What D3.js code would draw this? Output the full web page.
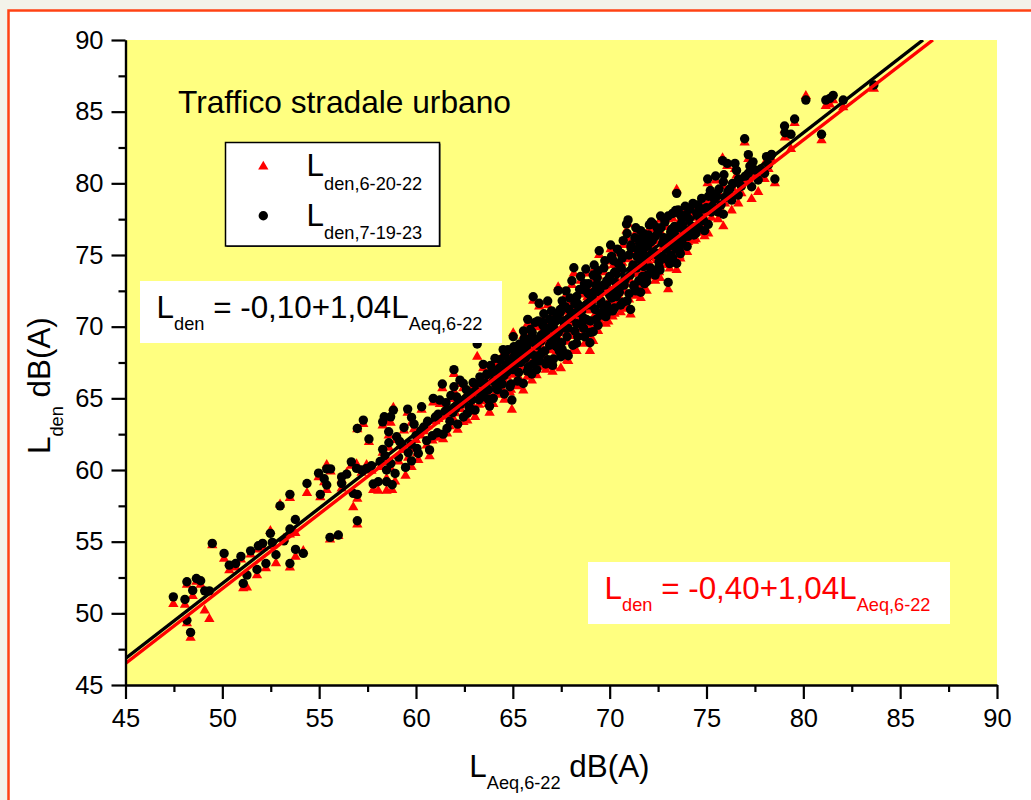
<!DOCTYPE html>
<html><head><meta charset="utf-8">
<script src="https://cdnjs.cloudflare.com/ajax/libs/d3/7.8.5/d3.min.js"></script>
<style>html,body{margin:0;padding:0;background:#f3f3ea;overflow:hidden}svg{display:block}text{font-family:"Liberation Sans",Arial,sans-serif}</style>
</head><body><svg id="c" width="1031" height="800"></svg>
<script>
const lAeq = [
47.47,48.07,48.17,48.47,48.66,48.88,49.09,49.33,48.17,48.36,
49.48,50.09,50.36,50.69,50.96,51.08,51.27,51.46,51.79,51.86,
52.08,52.25,52.48,52.58,52.77,53.18,53.49,53.49,53.78,53.77,
54.18,52.98,53.49,54.37,55.06,54.97,55.26,55.39,55.39,55.59,
55.56,55.99,56.16,56.16,56.42,56.66,56.76,56.97,56.97,56.97,
57.28,57.57,56.93,57.19,57.45,57.79,58.05,58.48,58.77,58.28,
58.36,58.83,58.69,58.59,59.00,58.28,58.48,58.92,59.46,59.77,
59.38,59.57,59.77,59.90,59.30,59.10,58.70,59.60,60.00,60.12,
60.29,60.40,60.55,60.70,60.89,61.00,61.10,61.23,61.36,61.50,
61.60,61.75,61.80,61.96,61.96,62.05,62.15,62.27,62.44,62.50,
62.65,62.80,62.95,63.05,63.16,63.30,63.40,63.47,63.60,63.72,
63.80,63.90,63.99,64.08,64.15,64.30,64.40,64.56,64.60,64.70,
64.85,64.95,65.02,65.10,65.15,65.25,65.35,65.45,65.54,65.60,
65.70,65.77,65.80,65.90,65.98,66.05,66.10,66.15,66.23,66.30,
66.36,66.45,66.50,66.60,66.70,66.80,66.85,66.90,67.00,67.05,
67.10,67.20,67.30,67.34,67.40,67.48,67.52,67.55,67.65,67.75,
67.80,67.86,67.90,68.00,68.05,68.15,68.20,68.29,68.30,68.40,
68.50,68.55,68.60,68.70,68.77,68.80,68.90,68.98,69.00,69.10,
69.15,69.20,69.25,69.35,69.40,69.46,69.50,69.60,69.70,69.75,
69.80,69.93,70.00,70.05,70.10,70.20,70.25,70.35,70.40,70.50,
70.57,70.60,70.70,70.75,70.87,70.90,71.00,71.05,71.08,70.95,
71.20,71.30,71.35,71.45,71.50,71.60,71.65,71.73,71.80,71.91,
71.95,72.05,72.10,72.20,72.25,72.35,72.40,72.50,72.60,72.63,
72.70,72.80,72.90,73.02,73.02,73.10,73.20,73.30,73.40,73.46,
73.46,73.54,73.60,73.70,73.80,73.90,74.00,74.10,74.14,74.30,
74.45,74.50,74.60,74.75,74.85,75.00,75.09,75.06,75.20,75.30,
75.47,75.50,75.60,75.83,75.87,75.87,75.95,76.07,76.20,76.30,
76.47,76.64,76.66,76.97,77.16,77.24,77.33,77.50,77.16,77.67,
78.10,78.36,78.20,78.53,78.00,79.03,79.05,79.36,79.55,80.13,
80.94,81.16,81.37,81.54,82.06,83.64,
66.20,66.55,66.75,67.15,67.45,67.70,68.10,68.35,68.65,68.85,
69.05,69.30,69.55,69.85,70.15,70.30,70.45,70.65,70.80,71.10,
71.25,71.40,71.55,71.70,71.85,72.00,72.15,72.30,72.45,72.55,
72.75,72.85,73.05,73.15,73.25,73.35,73.50,73.65,73.75,73.85,
64.25,64.50,64.80,65.05,65.30,65.65,65.85,66.00,66.40,66.65,
58.60,59.15,59.75,60.05,60.25,60.60,60.85,61.15,61.40,61.55,
61.70,61.90,62.10,62.30,62.45,62.60,62.75,62.90,63.10,63.25,
63.35,63.50,63.65,63.75,63.85,64.00,64.10,64.20,64.35,64.45,
64.55,64.65,64.75,64.90,65.00,65.05,65.20,65.30,65.40,65.50,
65.55,65.65,65.75,65.85,65.95,66.00,66.05,66.15,66.25,66.35,
66.45,66.55,66.65,66.70,66.80,66.90,67.00,67.05,67.15,67.25,
67.35,67.45,67.55,67.60,67.70,67.80,67.85,67.95,68.05,68.10,
68.20,68.30,68.35,68.45,68.55,68.65,68.70,68.80,68.90,69.00,
69.05,69.15,69.25,69.30,69.40,69.50,69.55,69.65,69.75,69.85,
69.90,70.00,70.10,70.15,70.25,70.35,70.45,70.55,70.60,70.70,
70.80,70.90,71.00,71.10,71.15,71.25,71.35,71.40,71.50,71.60,
71.70,71.75,71.85,71.95,72.00,72.10,72.15,72.25,72.35,72.45,
72.55,72.65,72.75,72.85,72.95,73.05,73.15,73.25,73.35,73.45,
73.55,73.65,73.75,73.85,73.95,74.05,74.15,74.25,74.35,74.55,
74.65,74.80,74.90,75.10,75.25,75.40,75.65,75.75,75.90,76.10,
76.35,76.55,76.80,77.00,77.40,77.80,78.30,57.70,58.15,58.40
];
const lden71923 = [
51.15,50.97,52.20,51.60,52.43,52.27,51.57,51.57,49.52,48.67,
54.88,54.18,53.36,53.48,53.97,52.09,52.67,54.36,53.06,54.71,
54.88,53.48,55.58,54.95,54.09,55.06,53.48,55.88,54.46,56.55,
54.18,57.50,58.30,59.06,58.30,59.78,59.39,58.95,60.08,60.08,
55.30,55.46,59.52,59.06,59.71,60.57,58.37,58.30,56.46,62.90,
63.48,62.16,60.11,60.00,60.11,59.02,59.18,59.18,58.97,63.36,
63.71,64.18,63.71,62.67,62.32,61.44,60.00,59.76,60.18,60.64,
62.97,64.25,63.67,63.20,61.70,60.90,60.45,61.20,62.40,61.15,
64.41,63.00,62.05,61.40,65.00,63.70,62.60,64.88,66.00,64.10,
62.90,63.40,65.20,67.00,65.81,64.30,63.20,66.27,66.04,64.85,
63.95,65.30,66.10,64.18,68.79,66.50,65.10,67.37,66.00,64.95,
64.46,66.80,65.00,67.79,65.90,67.10,66.40,65.30,68.00,66.85,
65.81,64.88,69.30,68.30,67.40,66.20,68.80,67.90,66.04,69.20,
68.50,70.51,67.20,69.80,66.70,72.09,68.90,67.95,67.00,70.40,
71.63,69.40,68.20,70.90,67.40,71.79,69.90,68.70,71.10,70.10,
67.75,69.20,70.80,72.51,68.30,67.90,68.88,71.80,70.00,72.50,
69.30,67.97,71.20,70.60,73.20,74.11,69.70,68.84,72.10,71.00,
73.50,70.20,72.60,69.30,74.02,71.50,73.00,68.88,70.40,72.10,
69.65,74.30,71.20,73.40,70.10,75.30,72.40,71.00,74.10,72.90,
70.70,71.04,73.50,75.70,72.00,74.60,71.30,73.00,75.40,72.40,
71.51,74.10,76.00,72.90,77.16,71.80,75.00,73.60,71.20,77.45,
74.30,76.20,72.50,75.40,73.20,76.70,74.60,76.51,73.00,73.14,
75.60,77.10,74.10,76.00,77.16,73.60,75.10,76.60,73.95,77.72,
74.90,76.20,75.40,73.09,77.72,74.40,76.80,75.80,78.10,74.41,
79.30,78.14,75.30,77.20,76.20,78.40,75.60,77.50,76.51,78.60,
76.51,77.90,76.90,78.95,77.40,78.30,77.14,80.30,79.50,78.40,
80.51,79.20,78.00,81.58,77.84,80.11,79.00,81.39,79.60,78.83,
81.39,79.18,80.30,83.11,82.00,81.21,79.76,80.93,80.70,80.23,
81.86,82.02,81.30,80.30,80.70,84.00,83.53,83.42,84.49,85.81,
83.42,85.81,85.93,86.14,85.81,86.86,
69.10,70.30,69.30,70.50,71.20,69.90,70.90,71.60,70.60,72.40,
71.80,72.90,71.60,73.20,72.50,73.80,72.70,74.80,73.40,75.50,
72.80,74.10,75.80,73.50,74.90,76.40,74.00,75.20,76.90,74.50,
75.90,77.30,75.60,76.60,74.80,77.00,76.10,75.10,77.60,76.40,
67.00,68.40,67.60,68.60,67.70,69.00,68.10,69.60,68.00,69.70,
61.90,62.00,61.80,61.50,62.75,63.40,62.40,63.90,62.50,64.70,
64.10,64.00,65.10,64.60,63.70,65.60,64.40,64.90,65.50,64.90,
66.10,65.40,66.70,65.60,67.30,66.20,66.90,65.60,67.70,66.00,
66.60,67.30,68.40,66.00,67.00,67.90,68.60,66.80,67.50,68.30,
69.70,67.80,66.90,68.90,68.10,69.30,67.40,70.30,68.70,67.60,
69.00,70.10,68.30,69.60,67.70,70.50,68.90,67.30,69.80,68.60,
69.60,71.00,68.40,70.40,71.40,68.10,69.90,72.00,70.90,68.70,
71.60,70.20,69.30,72.60,71.10,69.90,73.00,70.50,72.30,69.60,
71.50,73.60,72.50,70.50,73.90,70.80,71.80,72.90,74.60,71.50,
73.10,72.20,74.90,71.10,73.80,72.10,74.40,72.80,75.10,71.70,
73.30,76.50,72.30,75.70,74.00,72.90,76.90,74.90,76.10,72.40,
75.30,74.20,76.00,73.60,74.90,75.90,77.30,73.90,76.30,75.00,
74.20,76.90,75.80,77.50,74.70,76.20,75.00,77.90,76.40,75.40,
76.90,77.80,75.80,76.80,77.80,76.30,78.20,77.00,76.40,78.50,
77.60,78.20,76.70,79.10,78.00,78.90,79.60,78.50,80.60,79.40,
80.00,80.90,79.80,80.50,81.50,81.00,81.90,60.30,60.60,61.00
];
const lden62022 = [
50.65,50.60,52.00,51.20,52.20,52.00,50.20,49.60,49.30,48.30,
54.75,53.80,53.00,53.20,53.75,51.75,51.80,54.10,52.65,54.45,
54.60,53.15,55.75,54.70,53.50,55.20,53.20,55.50,53.95,55.60,
54.35,57.60,58.05,58.40,58.10,59.50,59.15,58.60,60.35,59.90,
55.15,55.40,59.30,58.70,59.80,60.30,57.40,58.00,56.20,62.85,
63.20,61.95,60.40,59.80,60.35,58.60,58.55,58.55,58.60,63.10,
63.50,64.35,63.30,62.40,62.10,61.20,59.40,59.20,59.60,60.20,
62.75,64.00,63.30,62.85,61.40,60.60,60.10,60.85,62.10,60.70,
64.20,62.70,61.70,60.95,64.70,63.40,62.25,64.60,65.70,63.75,
62.55,63.05,64.95,66.70,65.50,63.95,62.80,66.00,65.70,64.50,
63.45,65.00,65.80,63.70,67.90,66.20,64.80,67.10,65.70,64.60,
64.00,66.45,64.60,67.45,65.50,66.75,66.10,64.90,67.65,66.50,
65.40,64.20,69.55,67.95,67.05,65.85,68.50,67.60,65.55,68.90,
68.15,70.20,66.85,69.45,66.25,71.80,68.55,67.60,66.60,70.10,
71.40,69.05,67.85,70.60,67.00,71.50,69.55,68.35,70.80,69.75,
67.20,68.85,70.45,72.75,67.95,67.10,68.30,71.50,69.65,72.20,
68.95,67.60,70.85,70.25,72.90,73.70,69.35,68.30,71.80,70.65,
73.20,69.85,72.30,68.80,73.70,71.15,72.70,68.30,70.05,71.75,
69.00,74.00,70.85,73.10,69.70,75.00,72.05,70.60,73.80,72.55,
70.20,70.35,73.20,75.40,71.65,74.30,70.90,72.65,75.10,72.05,
71.00,73.75,75.70,72.55,76.70,71.30,74.70,73.25,70.85,77.15,
73.95,75.90,72.15,75.05,72.85,76.40,74.25,76.20,72.60,72.50,
75.25,76.80,73.75,75.70,76.85,73.20,74.75,76.30,73.40,77.45,
74.55,75.90,75.05,72.60,77.50,74.05,76.50,75.45,77.85,73.95,
79.55,77.90,74.95,76.90,75.85,78.10,75.20,77.20,76.10,78.30,
76.10,77.60,76.55,78.70,77.05,78.00,76.50,80.00,79.20,78.00,
80.20,78.90,77.50,81.75,77.00,79.80,78.60,81.20,79.25,78.10,
81.00,78.60,80.00,82.85,81.70,80.95,78.90,80.50,80.30,79.40,
81.60,81.70,81.00,80.00,80.30,83.70,83.20,82.40,84.20,86.10,
83.00,85.40,85.50,85.80,85.30,86.60,
68.75,69.95,68.95,70.10,70.85,69.55,70.55,71.25,70.25,72.05,
71.45,72.55,71.25,72.85,72.15,73.45,72.35,74.45,73.05,75.15,
72.45,73.75,75.45,73.15,74.55,76.05,73.65,74.85,76.55,74.15,
75.55,76.95,75.25,76.25,74.45,76.65,75.75,74.75,77.25,76.05,
66.65,68.05,67.25,68.25,67.35,68.65,67.75,69.25,67.65,69.35,
61.55,61.65,61.45,61.15,62.40,63.05,62.05,63.55,62.15,64.35,
63.75,63.65,64.75,64.25,63.35,65.25,64.05,64.55,65.15,64.55,
65.75,65.05,66.35,65.25,66.95,65.85,66.55,65.25,67.35,65.65,
66.25,66.95,68.05,65.60,66.65,67.55,68.25,66.45,67.15,67.95,
69.35,67.45,66.50,68.55,67.75,68.95,67.00,69.95,68.35,67.20,
68.65,69.75,67.95,69.25,67.25,70.15,68.55,66.85,69.45,68.25,
69.25,70.65,68.05,70.05,71.05,67.65,69.55,71.65,70.55,68.30,
71.25,69.85,68.85,72.25,70.75,69.55,72.65,70.15,71.95,69.20,
71.15,73.25,72.15,70.05,73.55,70.40,71.45,72.55,74.25,71.15,
72.75,71.85,74.55,70.70,73.45,71.75,74.05,72.45,74.75,71.25,
72.95,76.15,71.90,75.35,73.65,72.55,76.55,74.55,75.75,72.00,
74.95,73.85,75.65,73.20,74.55,75.55,76.95,73.50,75.95,74.65,
73.80,76.55,75.45,77.15,74.30,75.85,74.60,77.55,76.05,75.05,
76.55,77.45,75.40,76.45,77.45,75.90,77.85,76.65,76.00,78.15,
77.25,77.85,76.30,78.75,77.60,78.55,79.25,78.10,80.25,79.05,
79.65,80.55,79.30,80.15,81.15,80.55,81.55,59.95,60.20,60.55
];
const xTicks = [45,50,55,60,65,70,75,80,85,90];
const yTicks = [45,50,55,60,65,70,75,80,85,90];
const minorTicks = [47.5,52.5,57.5,62.5,67.5,72.5,77.5,82.5,87.5];
const fitX = [45,86.18], fitBlack = [46.85,90];
const fitXRed = [45,86.69], fitRed = [46.5,90];

const svg = d3.select("#c");
const x = d3.scaleLinear().domain([45,90]).range([125.5,997]);
const y = d3.scaleLinear().domain([45,90]).range([685,40]);
const tri = d3.symbol().type(d3.symbolTriangle).size(46)();

svg.append("rect").attr("x",8.5).attr("y",10.5).attr("width",1100).attr("height",900)
  .attr("fill","#fff").attr("stroke","#ff4314").attr("stroke-width",2.5);
svg.append("rect").attr("x",x(45)).attr("y",y(90)).attr("width",x(90)-x(45)).attr("height",y(45)-y(90)).attr("fill","#ffff80");

svg.append("clipPath").attr("id","pc").append("rect")
  .attr("x",x(45)).attr("y",y(90)).attr("width",x(90)-x(45)).attr("height",y(45)-y(90));
const plot = svg.append("g").attr("clip-path","url(#pc)");

plot.append("g").selectAll("path").data(lAeq).join("path").attr("d",tri).attr("fill","#ff0000")
  .attr("transform",(d,i)=>`translate(${x(d)},${y(lden62022[i])})`);
plot.append("g").selectAll("circle").data(lAeq).join("circle").attr("r",4.7).attr("fill","#000")
  .attr("cx",d=>x(d)).attr("cy",(d,i)=>y(lden71923[i]));

const ln = d3.line().x(d=>x(d[0])).y(d=>y(d[1]));
plot.append("path").attr("d",ln(fitX.map((v,i)=>[v,fitBlack[i]]))).attr("stroke","#000").attr("stroke-width",3.4).attr("fill","none");
plot.append("path").attr("d",ln(fitXRed.map((v,i)=>[v,fitRed[i]]))).attr("stroke","#ff0000").attr("stroke-width",3.4).attr("fill","none");

function styleAxis(g){g.selectAll("path.domain").attr("stroke","#000").attr("stroke-width",2.2);
  g.selectAll("line").attr("stroke","#000").attr("stroke-width",2.2);
  g.selectAll("text").attr("font-size",25.5).attr("fill","#000").attr("font-family",'"Liberation Sans",Arial,sans-serif');}
svg.append("g").attr("transform",`translate(0,${y(45)})`)
  .call(d3.axisBottom(x).tickValues(xTicks).tickSize(14).tickSizeOuter(0).tickPadding(10)).call(styleAxis);
svg.append("g").attr("transform",`translate(${x(45)},0)`)
  .call(d3.axisLeft(y).tickValues(yTicks).tickSize(14).tickSizeOuter(0).tickPadding(8)).call(styleAxis);
svg.append("g").attr("transform",`translate(0,${y(45)})`)
  .call(d3.axisBottom(x).tickValues(minorTicks).tickSize(7).tickSizeOuter(0).tickFormat("")).call(styleAxis);
svg.append("g").attr("transform",`translate(${x(45)},0)`)
  .call(d3.axisLeft(y).tickValues(minorTicks).tickSize(7).tickSizeOuter(0).tickFormat("")).call(styleAxis);

function rich(parent,px,py,parts,size,subSize,fill,drop){
  const t = parent.append("text").attr("x",px).attr("y",py).attr("font-size",size).attr("fill",fill);
  let prevSub=false;
  parts.forEach(p=>{
    const s=t.append("tspan").text(p[0]);
    const isSub=!!p[1];
    if(isSub){s.attr("font-size",subSize).attr("dy",drop);}
    else if(prevSub){s.attr("dy",-drop);}
    prevSub=isSub;
  });
  return t;
}
rich(svg,178,113.3,[["Traffico stradale urbano"]],31.7,0,"#000",0);

svg.append("rect").attr("x",226.5).attr("y",143.5).attr("width",214).attr("height",103.5).attr("fill","#333");
svg.append("rect").attr("x",225.5).attr("y",142.5).attr("width",214).attr("height",103.5).attr("fill","#fff").attr("stroke","#000").attr("stroke-width",1.5);
svg.append("path").attr("d",tri).attr("fill","#ff0000").attr("transform","translate(263.3,166.6)");
svg.append("circle").attr("cx",263.3).attr("cy",215.7).attr("r",4.7).attr("fill","#000");
rich(svg,306.6,176,[["L"],["den,6-20-22",1]],31.4,18.2,"#000",14);
rich(svg,306.6,225.7,[["L"],["den,7-19-23",1]],31.4,18.2,"#000",13.6);

svg.append("rect").attr("x",140).attr("y",281).attr("width",362).attr("height",62).attr("fill","#fff");
rich(svg,156.6,318.3,[["L"],["den",1],[" = -0,10+1,04L"],["Aeq,6-22",1]],31.4,18.2,"#000",11.7);
svg.append("rect").attr("x",588).attr("y",562).attr("width",362).attr("height",62).attr("fill","#fff");
rich(svg,604.6,599.3,[["L"],["den",1],[" = -0,40+1,04L"],["Aeq,6-22",1]],31.4,18.2,"#ff0000",11.7);

rich(svg,469.3,776.7,[["L"],["Aeq,6-22",1],[" dB(A)"]],31.4,18.2,"#000",12.3);
const yt = svg.append("g").attr("transform","translate(50,454) rotate(-90)");
rich(yt,0,0,[["L"],["den",1],[" dB(A)"]],31.4,18.2,"#000",13);
</script></body></html>
